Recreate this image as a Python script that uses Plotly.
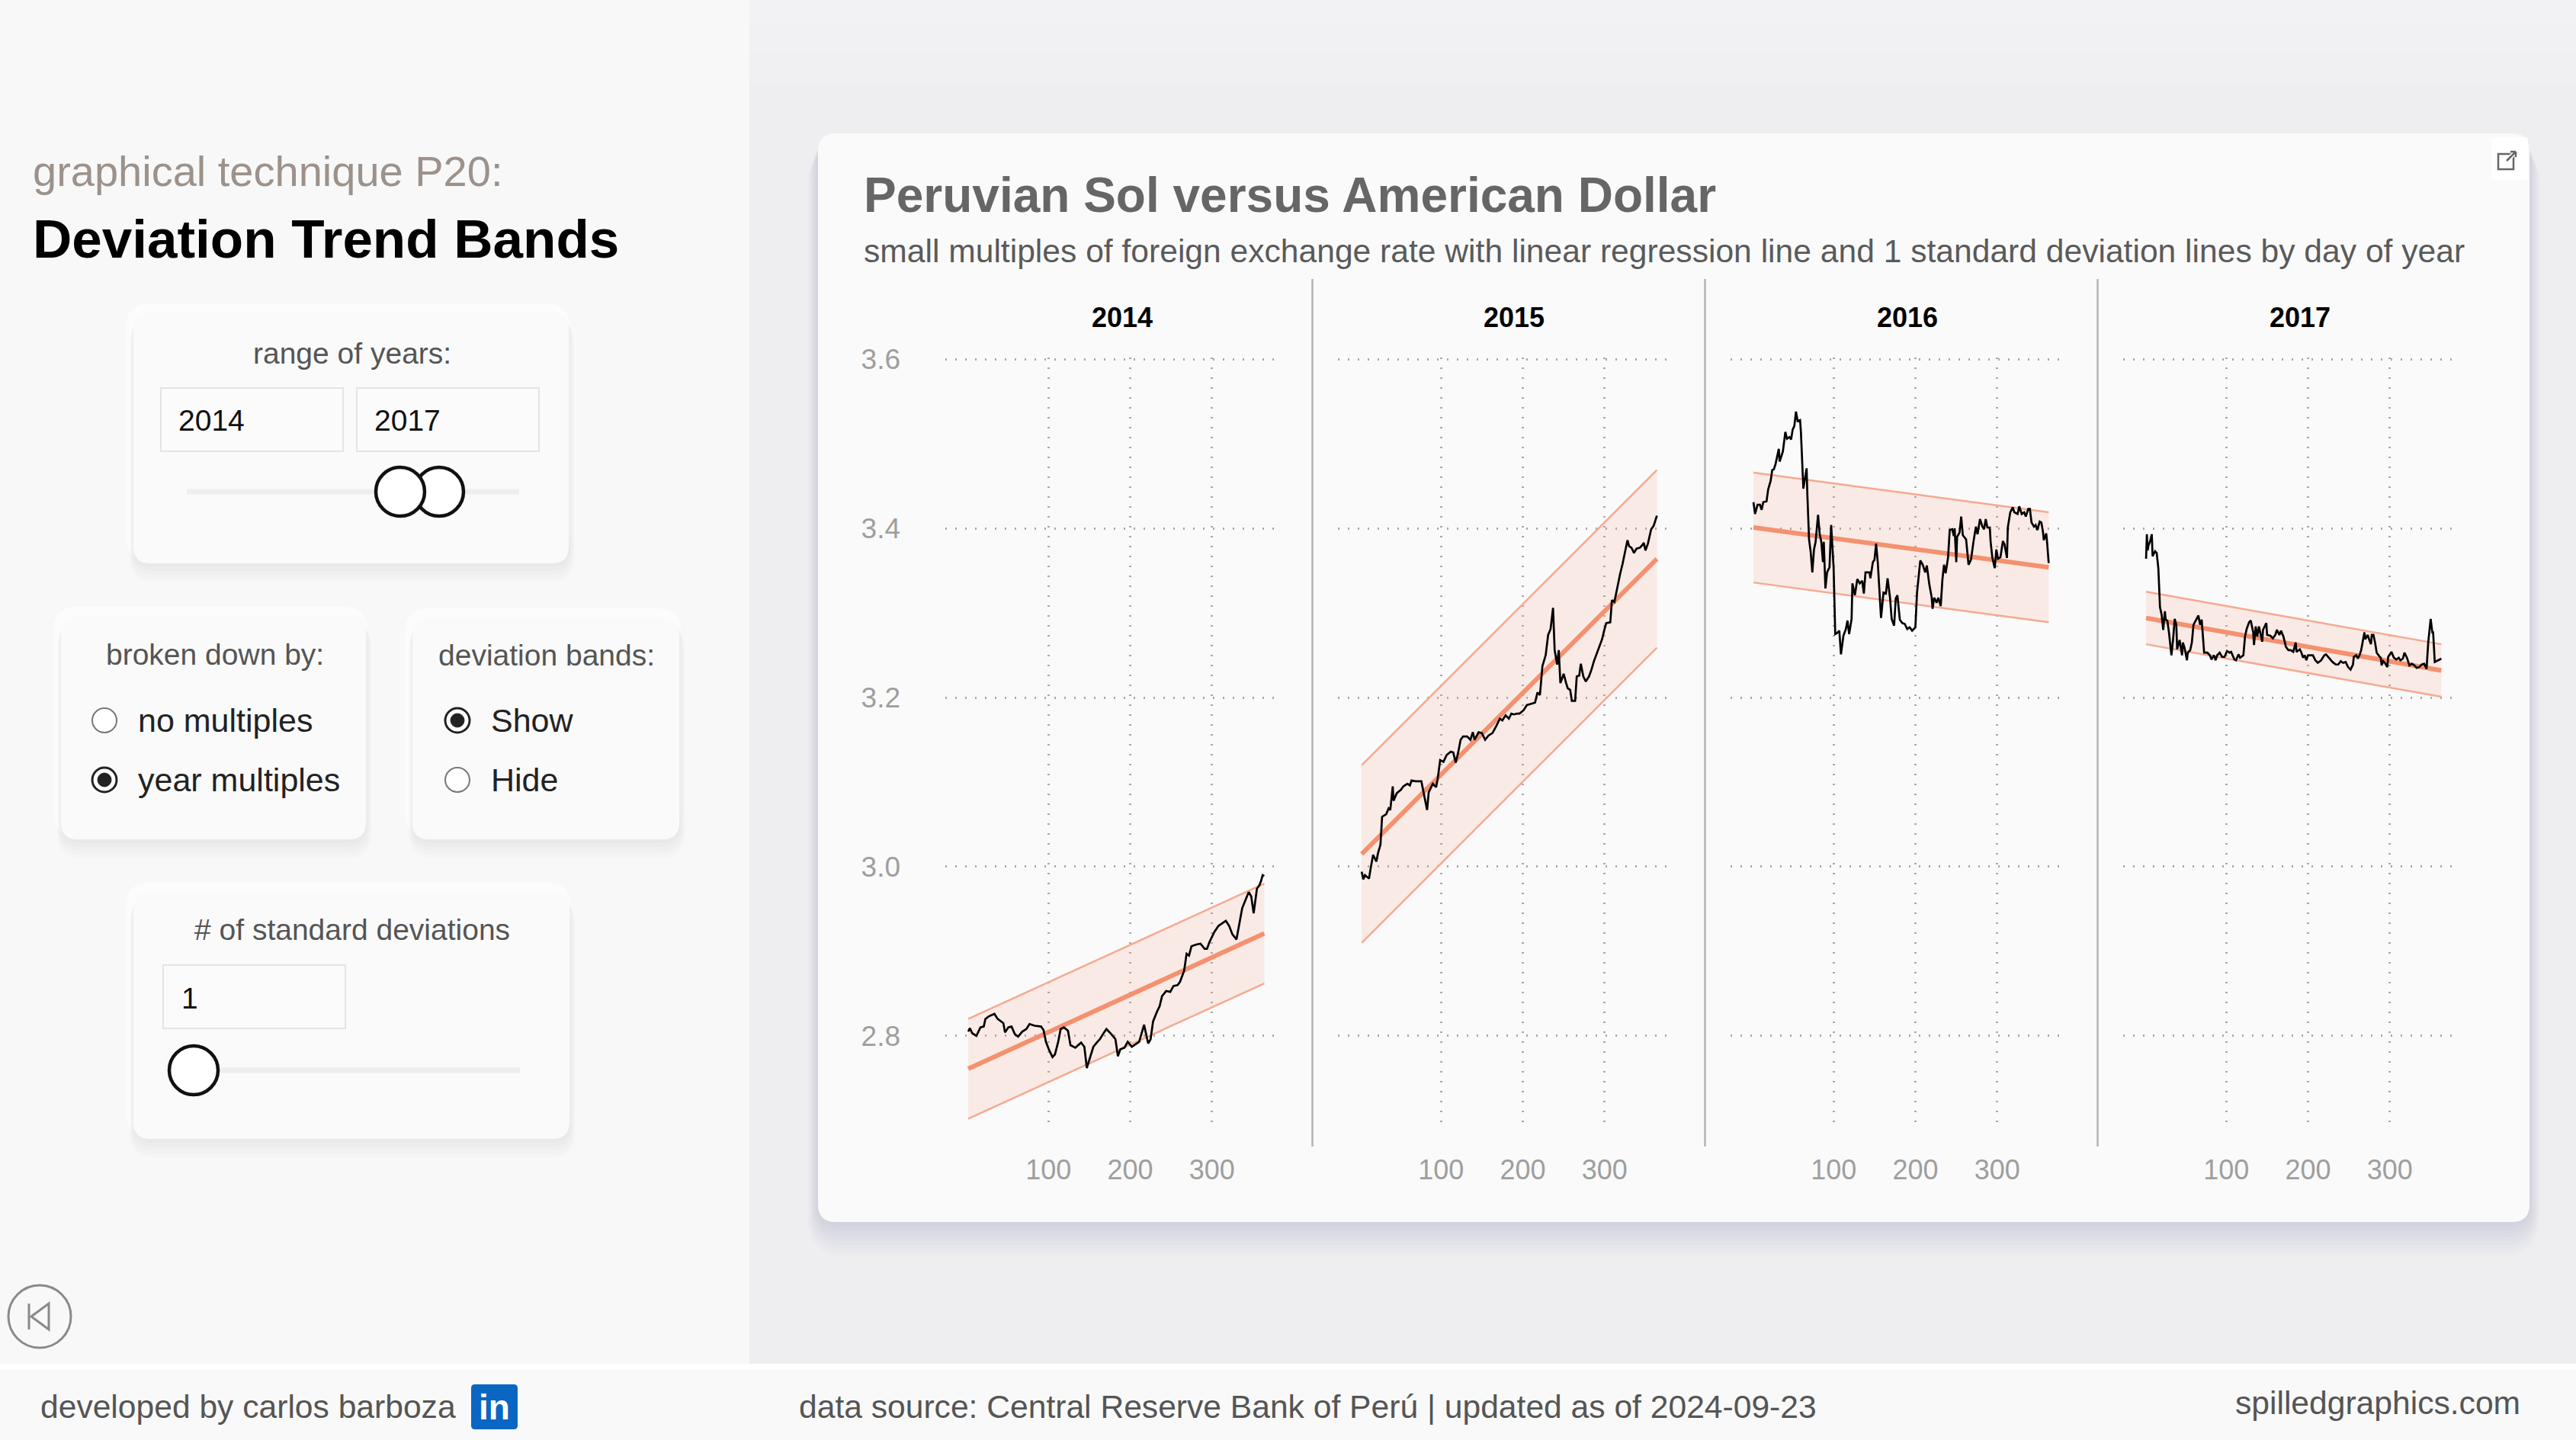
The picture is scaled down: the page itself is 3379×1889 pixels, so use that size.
import plotly.graph_objects as go

# page size in px (the browser window)
W, H = 3379, 1889
FONT = "Liberation Sans, Arial, Helvetica, sans-serif"

years = [2014, 2015, 2016, 2017]

days_2014 = [2, 4, 7, 12, 17, 21, 23, 27, 34, 38, 45, 47, 51, 55, 59, 63, 68, 73, 77, 83,
             91, 94, 97, 101, 105, 108, 112, 115, 119, 124, 127, 133, 140, 144, 147, 152, 155, 160, 163, 168,
             171, 177, 182, 185, 188, 193, 197, 202, 207, 211, 217, 219, 222, 225, 228, 233, 236, 239, 244, 249,
             253, 258, 261, 266, 269, 272, 275, 281, 286, 291, 294, 297, 303, 308, 312, 317, 321, 325, 330, 333,
             337, 342, 345, 348, 351, 355, 358, 360, 362, 364]
fx_2014 = [2.805, 2.809, 2.803, 2.800, 2.810, 2.811, 2.820, 2.823, 2.826, 2.820, 2.815, 2.804, 2.810, 2.811, 2.802,
           2.799, 2.805, 2.808, 2.814, 2.812, 2.811, 2.807, 2.793, 2.783, 2.775, 2.778, 2.793, 2.808, 2.810, 2.806,
           2.789, 2.786, 2.792, 2.787, 2.762, 2.777, 2.787, 2.793, 2.796, 2.804, 2.808, 2.802, 2.796, 2.776, 2.784,
           2.786, 2.793, 2.787, 2.790, 2.793, 2.813, 2.805, 2.791, 2.796, 2.817, 2.829, 2.835, 2.847, 2.853, 2.852,
           2.859, 2.860, 2.864, 2.877, 2.897, 2.895, 2.906, 2.908, 2.909, 2.903, 2.903, 2.911, 2.923, 2.930, 2.933,
           2.936, 2.930, 2.920, 2.914, 2.929, 2.951, 2.963, 2.970, 2.965, 2.945, 2.974, 2.978, 2.983, 2.990, 2.989]

days_2015 = [3, 5, 7, 10, 12, 14, 17, 21, 23, 26, 28, 33, 36, 38, 41, 42, 46, 51, 54, 59,
             62, 64, 69, 76, 79, 83, 85, 90, 94, 96, 99, 103, 107, 112, 115, 118, 121, 124, 127, 132,
             136, 139, 141, 146, 150, 154, 158, 163, 168, 172, 175, 179, 183, 186, 189, 193, 196, 201, 205, 211,
             215, 218, 221, 224, 228, 231, 234, 237, 239, 242, 244, 246, 250, 253, 255, 258, 260, 264, 266, 269,
             271, 274, 277, 281, 284, 287, 291, 294, 297, 300, 302, 307, 309, 312, 316, 319, 322, 326, 328, 330,
             333, 336, 339, 343, 346, 348, 350, 353, 357, 360, 364]
fx_2015 = [2.994, 2.985, 2.990, 2.988, 2.986, 2.998, 3.014, 3.006, 3.016, 3.026, 3.059, 3.062, 3.069, 3.067, 3.095,
           3.078, 3.087, 3.091, 3.095, 3.098, 3.096, 3.102, 3.101, 3.101, 3.085, 3.067, 3.088, 3.098, 3.094, 3.104,
           3.126, 3.124, 3.132, 3.136, 3.135, 3.123, 3.135, 3.150, 3.154, 3.154, 3.150, 3.159, 3.150, 3.159, 3.158,
           3.150, 3.155, 3.158, 3.167, 3.175, 3.173, 3.179, 3.175, 3.181, 3.180, 3.181, 3.181, 3.185, 3.191, 3.193,
           3.194, 3.206, 3.203, 3.237, 3.250, 3.274, 3.281, 3.306, 3.256, 3.239, 3.256, 3.217, 3.228, 3.217, 3.211,
           3.209, 3.196, 3.196, 3.225, 3.226, 3.240, 3.225, 3.219, 3.225, 3.233, 3.243, 3.254, 3.262, 3.269, 3.281,
           3.288, 3.289, 3.315, 3.313, 3.333, 3.346, 3.358, 3.377, 3.386, 3.379, 3.377, 3.371, 3.376, 3.377, 3.380,
           3.383, 3.374, 3.382, 3.399, 3.403, 3.415]

days_2016 = [2, 4, 7, 10, 12, 14, 18, 20, 23, 25, 27, 29, 33, 34, 38, 41, 43, 46, 48, 50,
             52, 54, 56, 59, 60, 62, 63, 65, 67, 68, 70, 72, 74, 76, 78, 81, 83, 85, 87, 88,
             90, 92, 95, 97, 100, 102, 104, 107, 109, 112, 115, 117, 119, 122, 123, 126, 129, 132, 135, 137,
             139, 144, 145, 148, 150, 152, 154, 158, 161, 164, 166, 169, 171, 174, 176, 178, 181, 184, 187, 190,
             193, 196, 200, 202, 206, 209, 212, 214, 217, 220, 221, 223, 226, 228, 231, 233, 235, 237, 240, 242,
             245, 247, 248, 250, 251, 254, 256, 258, 262, 265, 268, 271, 274, 276, 279, 282, 284, 286, 288, 291,
             292, 294, 297, 299, 301, 304, 307, 309, 312, 313, 316, 319, 321, 325, 327, 330, 333, 335, 338, 340,
             342, 345, 347, 349, 352, 354, 356, 357, 360, 361, 363]
fx_2016 = [3.431, 3.417, 3.428, 3.428, 3.422, 3.431, 3.432, 3.446, 3.456, 3.469, 3.470, 3.476, 3.494, 3.479, 3.491,
           3.514, 3.506, 3.508, 3.505, 3.517, 3.521, 3.538, 3.527, 3.528, 3.515, 3.474, 3.447, 3.459, 3.471, 3.438,
           3.387, 3.372, 3.348, 3.375, 3.384, 3.416, 3.393, 3.384, 3.360, 3.384, 3.329, 3.348, 3.354, 3.404, 3.354,
           3.275, 3.276, 3.279, 3.251, 3.273, 3.281, 3.291, 3.275, 3.293, 3.335, 3.321, 3.340, 3.335, 3.338, 3.323,
           3.348, 3.348, 3.341, 3.360, 3.363, 3.382, 3.360, 3.294, 3.324, 3.323, 3.341, 3.318, 3.293, 3.285, 3.317,
           3.321, 3.292, 3.288, 3.287, 3.281, 3.283, 3.279, 3.283, 3.324, 3.362, 3.357, 3.348, 3.356, 3.334, 3.318,
           3.305, 3.318, 3.312, 3.318, 3.308, 3.339, 3.357, 3.347, 3.366, 3.398, 3.399, 3.391, 3.400, 3.360, 3.390,
           3.395, 3.414, 3.392, 3.387, 3.357, 3.363, 3.384, 3.402, 3.393, 3.411, 3.402, 3.399, 3.411, 3.401, 3.401,
           3.384, 3.366, 3.353, 3.375, 3.364, 3.366, 3.385, 3.381, 3.365, 3.401, 3.419, 3.425, 3.419, 3.417, 3.426,
           3.417, 3.419, 3.414, 3.423, 3.423, 3.407, 3.402, 3.404, 3.398, 3.408, 3.407, 3.396, 3.386, 3.394, 3.384,
           3.359]

days_2017 = [2, 3, 4, 5, 7, 9, 10, 13, 15, 17, 18, 19, 21, 23, 25, 26, 28, 30, 33, 35,
             37, 39, 40, 43, 44, 46, 47, 49, 52, 53, 56, 58, 60, 63, 66, 68, 70, 73, 77, 80,
             82, 85, 87, 89, 92, 95, 98, 101, 104, 106, 108, 110, 112, 115, 117, 121, 123, 125, 128, 130,
             133, 134, 136, 138, 140, 144, 145, 149, 150, 154, 157, 160, 162, 165, 167, 170, 173, 176, 179, 182,
             185, 186, 190, 192, 194, 196, 198, 200, 203, 206, 209, 212, 216, 220, 222, 226, 230, 234, 237, 240,
             243, 246, 249, 252, 255, 256, 259, 261, 263, 265, 267, 269, 270, 273, 275, 277, 278, 280, 282, 284,
             287, 289, 290, 292, 294, 297, 298, 302, 305, 308, 311, 313, 316, 318, 321, 324, 327, 330, 333, 336,
             339, 342, 345, 347, 350, 352, 353, 355, 359, 363]
fx_2017 = [3.364, 3.393, 3.374, 3.380, 3.385, 3.393, 3.367, 3.373, 3.371, 3.353, 3.331, 3.307, 3.298, 3.280, 3.302,
           3.292, 3.291, 3.277, 3.250, 3.268, 3.293, 3.286, 3.257, 3.268, 3.262, 3.250, 3.265, 3.259, 3.244, 3.253,
           3.256, 3.265, 3.286, 3.292, 3.297, 3.286, 3.292, 3.253, 3.253, 3.250, 3.245, 3.250, 3.244, 3.250, 3.253,
           3.248, 3.248, 3.255, 3.253, 3.254, 3.250, 3.245, 3.244, 3.251, 3.247, 3.250, 3.272, 3.281, 3.289, 3.291,
           3.277, 3.262, 3.284, 3.272, 3.284, 3.266, 3.280, 3.288, 3.274, 3.273, 3.270, 3.274, 3.280, 3.274, 3.279,
           3.272, 3.260, 3.256, 3.256, 3.254, 3.265, 3.254, 3.257, 3.253, 3.247, 3.250, 3.244, 3.250, 3.250, 3.250,
           3.244, 3.241, 3.244, 3.250, 3.251, 3.246, 3.242, 3.239, 3.239, 3.243, 3.241, 3.242, 3.236, 3.233, 3.239,
           3.248, 3.250, 3.246, 3.250, 3.256, 3.266, 3.277, 3.269, 3.274, 3.268, 3.263, 3.274, 3.274, 3.265, 3.253,
           3.249, 3.247, 3.238, 3.243, 3.241, 3.236, 3.248, 3.254, 3.247, 3.245, 3.247, 3.244, 3.246, 3.253, 3.247,
           3.238, 3.240, 3.238, 3.235, 3.236, 3.239, 3.240, 3.234, 3.265, 3.293, 3.277, 3.277, 3.242, 3.244, 3.246]

# regression line at the first / last day, and 1 standard deviation
trend_start = [2.761, 3.015, 3.401, 3.294]
trend_end = [2.921, 3.364, 3.354, 3.232]
band_sd = [0.059, 0.105, 0.065, 0.031]

x_ticks = [100, 200, 300]
y_ticks = [2.8, 3.0, 3.2, 3.4, 3.6]
y_tick_text = ["2.8", "3.0", "3.2", "3.4", "3.6"]

days = [days_2014, days_2015, days_2016, days_2017]
fx = [fx_2014, fx_2015, fx_2016, fx_2017]

BAND_EDGE = "#f6a990"
TREND = "#f4916f"
BAND_FILL = "rgba(244,160,135,0.18)"


def px(x):
    return x / W


def py(y):
    return 1 - y / H


def rrect(x0, y0, x1, y1, r, fill, line=None, lw=0, layer="below"):
    rx, ry = r / W, r / H
    X0, X1, Y0, Y1 = px(x0), px(x1), py(y0), py(y1)
    path = (f"M {X0+rx},{Y0} L {X1-rx},{Y0} Q {X1},{Y0} {X1},{Y0-ry} "
            f"L {X1},{Y1+ry} Q {X1},{Y1} {X1-rx},{Y1} L {X0+rx},{Y1} "
            f"Q {X0},{Y1} {X0},{Y1+ry} L {X0},{Y0-ry} Q {X0},{Y0} {X0+rx},{Y0} Z")
    return dict(type="path", xref="paper", yref="paper", path=path, fillcolor=fill,
                line=dict(color=line or "rgba(0,0,0,0)", width=lw), layer=layer)


def circle(cx, cy, r, fill, line, lw):
    return dict(type="circle", xref="paper", yref="paper", x0=px(cx - r), x1=px(cx + r),
                y0=py(cy + r), y1=py(cy - r), fillcolor=fill, line=dict(color=line, width=lw))


def seg(x0, y0, x1, y1, color, w):
    return dict(type="line", xref="paper", yref="paper", x0=px(x0), x1=px(x1), y0=py(y0), y1=py(y1),
                line=dict(color=color, width=w))


def txt(x, y, s, size, color, bold=False, xanchor="left"):
    return dict(x=px(x), y=py(y), xref="paper", yref="paper", showarrow=False,
                text=f"<b>{s}</b>" if bold else s, xanchor=xanchor, yanchor="middle",
                font=dict(family=FONT, size=size, color=color))


def card(x0, y0, x1, y1, r=22, depth=5, alpha=0.012):
    out = [rrect(x0 - 10, y0 - 12, x1 + 2, y1 - 4, r + 10, "rgba(255,255,255,0.6)")]
    for k in range(1, depth + 1):
        out.append(rrect(x0 - k, y0 + k * 2, x1 + k * 1.5, y1 + k * 5, r + k * 2, f"rgba(0,0,0,{alpha})"))
    out.append(rrect(x0, y0, x1, y1, r, "#fafafa"))
    return out


fig = go.Figure()

# plot area geometry (px) and axis ranges
x_range = [-26, 386]
y_range = [2.698, 3.602]
panel_left, panel_width, panel_pitch = 1240, 442, 515
plot_top, plot_bottom = 469, 1472

layout_axes = {}
for i, yr in enumerate(years):
    sfx = "" if i == 0 else str(i + 1)
    xa, ya = "x" + sfx, "y" + sfx
    d = days[i]
    lo = [trend_start[i] - band_sd[i], trend_end[i] - band_sd[i]]
    hi = [trend_start[i] + band_sd[i], trend_end[i] + band_sd[i]]
    ends = [d[0], d[-1]]
    fig.add_trace(go.Scatter(x=ends, y=lo, mode="lines", line=dict(color=BAND_EDGE, width=2.5),
                             xaxis=xa, yaxis=ya, showlegend=False, hoverinfo="skip"))
    fig.add_trace(go.Scatter(x=ends, y=hi, mode="lines", line=dict(color=BAND_EDGE, width=2.5),
                             fill="tonexty", fillcolor=BAND_FILL,
                             xaxis=xa, yaxis=ya, showlegend=False, hoverinfo="skip"))
    fig.add_trace(go.Scatter(x=ends, y=[trend_start[i], trend_end[i]], mode="lines",
                             line=dict(color=TREND, width=6), xaxis=xa, yaxis=ya, showlegend=False,
                             hoverinfo="skip"))
    fig.add_trace(go.Scatter(x=d, y=fx[i], mode="lines", line=dict(color="black", width=2.7),
                             xaxis=xa, yaxis=ya, showlegend=False, name=str(yr)))

    left = panel_left + i * panel_pitch
    layout_axes["xaxis" + sfx] = dict(
        domain=[px(left), px(left + panel_width)], range=x_range, anchor=ya, automargin=False,
        tickvals=x_ticks, showgrid=True, gridcolor="#a8a8a8", gridwidth=2.5, griddash="2px,11px",
        zeroline=False, showline=False, ticks="", ticklabelstandoff=38,
        tickfont=dict(family=FONT, size=36, color="#9e9e9e"), fixedrange=True)
    layout_axes["yaxis" + sfx] = dict(
        domain=[py(plot_bottom), py(plot_top)], range=y_range, anchor=xa, automargin=False,
        tickvals=y_ticks, ticktext=y_tick_text, showticklabels=(i == 0),
        showgrid=True, gridcolor="#a8a8a8", gridwidth=2.5, griddash="2px,11px",
        zeroline=False, showline=False, ticks="", ticklabelstandoff=58,
        tickfont=dict(family=FONT, size=37, color="#9e9e9e"), fixedrange=True)

shapes = []
# page regions
shapes.append(dict(type="rect", xref="paper", yref="paper", x0=0, x1=px(983), y0=py(1789), y1=1,
                   fillcolor="#f8f8f8", line=dict(width=0), layer="below"))
for k, top in enumerate([110, 70, 30]):
    shapes.append(dict(type="rect", xref="paper", yref="paper", x0=px(983), x1=1, y0=py(top), y1=1,
                       fillcolor="rgba(255,255,255,0.12)", line=dict(width=0), layer="below"))
shapes.append(dict(type="rect", xref="paper", yref="paper", x0=0, x1=1, y0=0, y1=py(1789),
                   fillcolor="#ffffff", line=dict(width=0), layer="below"))
shapes.append(dict(type="rect", xref="paper", yref="paper", x0=0, x1=1, y0=0, y1=py(1797),
                   fillcolor="#f9f9f9", line=dict(width=0), layer="below"))

# main chart card with a soft drop shadow
for k in range(1, 10):
    shapes.append(rrect(1073 - k * 1.5, 175 + k * 2, 3318 + k * 1.5, 1603 + k * 5, 24 + k * 3,
                        "rgba(40,40,60,0.013)"))
shapes.append(rrect(1073, 175, 3318, 1603, 23, "#fafafa"))
# small expand icon
shapes.append(rrect(3268, 180, 3316, 236, 4, "#ffffff"))
shapes.append(dict(type="rect", xref="paper", yref="paper", x0=px(3277), x1=px(3297), y0=py(222), y1=py(202),
                   line=dict(color="#666", width=2.5), fillcolor="rgba(0,0,0,0)"))
shapes.append(seg(3287, 212, 3301, 198, "#ffffff", 6))
shapes.append(seg(3288, 211, 3300, 199, "#666", 2.5))
shapes.append(seg(3293, 199, 3300, 199, "#666", 2.5))
shapes.append(seg(3300, 199, 3300, 206, "#666", 2.5))

# panel separators
for k in range(3):
    xs = 1721.5 + k * panel_pitch
    shapes.append(dict(type="line", xref="paper", yref="paper", x0=px(xs), x1=px(xs), y0=py(1504), y1=py(366),
                       line=dict(color="#b4b4b4", width=2.5), layer="below"))

# sidebar cards
shapes += card(175, 410, 746, 739)
shapes += card(80, 808, 480, 1101)
shapes += card(541, 810, 891, 1101)
shapes += card(175, 1170, 747, 1494)

# inputs
for x0, x1, y0, y1 in [(211, 450, 509, 592), (468, 707, 509, 592), (214, 453, 1266, 1349)]:
    shapes.append(dict(type="rect", xref="paper", yref="paper", x0=px(x0), x1=px(x1), y0=py(y1), y1=py(y0),
                       fillcolor="#fbfbfb", line=dict(color="#e4e4e4", width=2)))

# sliders
shapes.append(seg(245, 645, 681, 645, "#eeeeee", 7))
shapes.append(circle(576, 645, 32, "#ffffff", "#111111", 4.5))
shapes.append(circle(525, 645, 32, "#ffffff", "#111111", 4.5))
shapes.append(seg(255, 1404, 682, 1404, "#eeeeee", 7))
shapes.append(circle(254, 1404, 32, "#ffffff", "#111111", 4.5))

# radio buttons
shapes.append(circle(137, 945, 16, "#ffffff", "#777777", 2))
shapes.append(circle(137, 1023, 16, "#ffffff", "#222222", 3))
shapes.append(circle(137, 1023, 9, "#222222", "#222222", 1))
shapes.append(circle(600, 945, 16, "#ffffff", "#222222", 3))
shapes.append(circle(600, 945, 9, "#222222", "#222222", 1))
shapes.append(circle(600, 1023, 16, "#ffffff", "#777777", 2))

# back button
shapes.append(circle(52, 1727, 41, "rgba(0,0,0,0)", "#8a8a8a", 3))
shapes.append(seg(38, 1710, 38, 1744, "#8a8a8a", 3))
shapes.append(dict(type="path", xref="paper", yref="paper",
                   path=f"M {px(41)},{py(1727)} L {px(64)},{py(1710)} L {px(64)},{py(1744)} Z",
                   line=dict(color="#8a8a8a", width=3), fillcolor="rgba(0,0,0,0)"))

# linkedin badge
shapes.append(rrect(618, 1816, 679, 1875, 5, "#0a66c2", layer="above"))

annotations = [
    txt(1131, 256, "Peruvian Sol versus American Dollar", 64, "#666666", bold=True),
    txt(1131, 329, "small multiples of foreign exchange rate with linear regression line and 1 standard deviation lines by day of year",
        42.6, "#5a5a5a"),
    txt(41, 224, "graphical technique P20:", 56, "#9c928b"),
    txt(41, 313, "Deviation Trend Bands", 71, "#000000", bold=True),
    txt(462, 463, "range of years:", 39, "#555555", xanchor="center"),
    txt(232, 551, "2014", 39, "#111111"),
    txt(489, 551, "2017", 39, "#111111"),
    txt(282, 858, "broken down by:", 39, "#555555", xanchor="center"),
    txt(179, 945, "no multiples", 43, "#222222"),
    txt(179, 1023, "year multiples", 43, "#222222"),
    txt(717, 860, "deviation bands:", 39, "#555555", xanchor="center"),
    txt(642, 945, "Show", 43, "#222222"),
    txt(642, 1023, "Hide", 43, "#222222"),
    txt(462, 1219, "# of standard deviations", 39, "#555555", xanchor="center"),
    txt(236, 1309, "1", 39, "#111111"),
    txt(51, 1845, "developed by carlos barboza", 42.6, "#555555"),
    txt(648, 1846, "in", 46, "#ffffff", bold=True, xanchor="center"),
    txt(1715, 1845, "data source: Central Reserve Bank of Perú | updated as of 2024-09-23", 42.6, "#555555",
        xanchor="center"),
    txt(3308, 1840, "spilledgraphics.com", 42.6, "#555555", xanchor="right"),
]
for i, yr in enumerate(years):
    cx = panel_left + i * panel_pitch + panel_width / 2 + 10.5
    annotations.append(txt(cx, 416, str(yr), 36, "#000000", bold=True, xanchor="center"))

fig.update_layout(
    width=W, height=H, margin=dict(l=0, r=0, t=0, b=0, pad=0, autoexpand=False),
    paper_bgcolor="#eeeef1", plot_bgcolor="rgba(0,0,0,0)",
    font=dict(family=FONT), shapes=shapes, annotations=annotations,
    **layout_axes,
)

# figure is exactly the window size, so drop the default page margin
fig.write_html("out.html", config={"displayModeBar": False},
               post_script="document.body.style.margin='0';document.body.style.overflow='hidden';")
